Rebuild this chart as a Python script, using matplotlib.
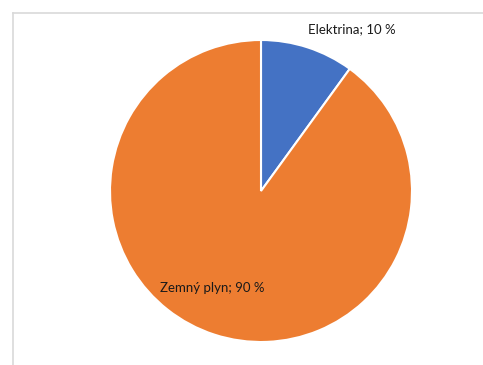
import matplotlib
matplotlib.use("Agg")
import matplotlib.pyplot as plt
from matplotlib.lines import Line2D

labels = ["Elektrina", "Zemný plyn"]
shares = [10, 90]
colors = ["#4472C4", "#ED7D31"]

W, H = 483, 365
fig = plt.figure(figsize=(W / 100, H / 100), dpi=100)

# light grey chart-area border (left and top edges visible)
fig.add_artist(Line2D([12.5 / W, 12.5 / W], [0, 1 - 12.5 / H], color="#d9d9d9", lw=1.2))
fig.add_artist(Line2D([12.5 / W, 1], [1 - 12.5 / H, 1 - 12.5 / H], color="#d9d9d9", lw=1.2))

cx, cy, r = 261, 191, 151
ax = fig.add_axes([(cx - r) / W, (H - cy - r) / H, 2 * r / W, 2 * r / H])
ax.pie(shares, colors=colors, startangle=90, counterclock=False,
       wedgeprops=dict(edgecolor="white", linewidth=1.5), radius=1)
ax.set_xlim(-1, 1)
ax.set_ylim(-1, 1)
ax.set_aspect("equal")
ax.axis("off")

# label positions (pixels of the reference)
pos = [(352, 29), (212, 288)]
for lab, s, (px, py) in zip(labels, shares, pos):
    ax.text((px - cx) / r, (cy - py) / r, f"{lab}; {s} %", ha="center", va="center",
            fontsize=9.5, family="Lato", color="#1a1a1a", clip_on=False)

fig.savefig("out.png", dpi=100)
